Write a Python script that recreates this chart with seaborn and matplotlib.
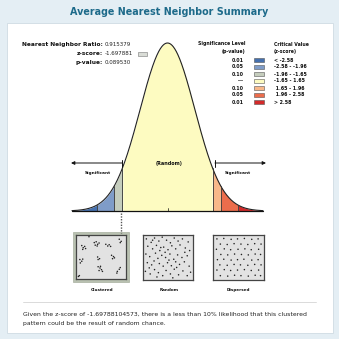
import numpy as np
import pandas as pd
import matplotlib
matplotlib.use("Agg")
import matplotlib.pyplot as plt
import seaborn as sns
from matplotlib.patches import Rectangle

sns.set_style("white")
plt.rcParams["font.family"] = ["DejaVu Sans"]

# ---------------- data ----------------
title = "Average Nearest Neighbor Summary"
nn_ratio = "0.915379"
z_score = -1.697881
z_score_text = "-1.697881"
p_value = "0.089530"
breaks = [-3.5, -2.58, -1.96, -1.65, 1.65, 1.96, 2.58, 3.5]
zone_colors = ["#4570ae", "#7f9cc8", "#c5cdbd", "#fdfbc1", "#f8b88a", "#ec6d4c", "#d32a2a"]
p_levels = ["0.01", "0.05", "0.10", "---", "0.10", "0.05", "0.01"]
z_ranges = ["< -2.58", "-2.58 - -1.96", "-1.96 - -1.65", "-1.65 - 1.65",
            " 1.65 - 1.96", " 1.96 - 2.58", "> 2.58"]
pattern_names = ["Clustered", "Random", "Dispersed"]
summary = ["Given the z-score of -1.69788104573, there is a less than 10% likelihood that this clustered",
           "pattern could be the result of random chance."]

clustered_u = [0.10, 0.13, 0.16, 0.18, 0.12, 0.36, 0.40, 0.43, 0.38, 0.46, 0.42,
               0.60, 0.64, 0.67, 0.70, 0.88, 0.92, 0.90, 0.06, 0.10, 0.07, 0.12,
               0.43, 0.47, 0.44, 0.72, 0.76, 0.74, 0.78, 0.44, 0.48, 0.51, 0.46,
               0.53, 0.49, 0.84, 0.88, 0.90, 0.83, 0.03, 0.05, 0.25]
clustered_v = [0.77, 0.72, 0.75, 0.70, 0.68, 0.84, 0.86, 0.80, 0.78, 0.83, 0.76,
               0.80, 0.76, 0.79, 0.75, 0.92, 0.87, 0.84, 0.44, 0.40, 0.36, 0.45,
               0.50, 0.46, 0.44, 0.54, 0.51, 0.46, 0.48, 0.27, 0.24, 0.20, 0.18,
               0.16, 0.28, 0.16, 0.21, 0.25, 0.12, 0.04, 0.06, 0.98]
random_u = [0.05, 0.15, 0.22, 0.31, 0.38, 0.47, 0.55, 0.63, 0.71, 0.80, 0.92,
            0.08, 0.18, 0.26, 0.33, 0.41, 0.50, 0.58, 0.66, 0.75, 0.86, 0.95,
            0.04, 0.12, 0.24, 0.29, 0.37, 0.45, 0.54, 0.62, 0.70, 0.79, 0.90,
            0.07, 0.16, 0.21, 0.32, 0.40, 0.49, 0.57, 0.66, 0.74, 0.84, 0.94,
            0.03, 0.13, 0.22, 0.30, 0.39, 0.46, 0.55, 0.63, 0.72, 0.81, 0.90,
            0.97, 0.27, 0.60, 0.44, 0.85, 0.18, 0.35, 0.52, 0.11, 0.68]
random_v = [0.93, 0.85, 0.95, 0.88, 0.97, 0.90, 0.84, 0.95, 0.88, 0.93, 0.86,
            0.76, 0.70, 0.78, 0.66, 0.74, 0.68, 0.77, 0.70, 0.79, 0.72, 0.66,
            0.58, 0.52, 0.60, 0.48, 0.55, 0.50, 0.58, 0.46, 0.56, 0.50, 0.54,
            0.38, 0.33, 0.42, 0.36, 0.30, 0.38, 0.31, 0.40, 0.34, 0.40, 0.30,
            0.18, 0.12, 0.22, 0.15, 0.08, 0.20, 0.12, 0.23, 0.10, 0.19, 0.08,
            0.16, 0.05, 0.03, 0.62, 0.62, 0.90, 0.73, 0.44, 0.26, 0.27]
dispersed_u = [0.06, 0.20, 0.35, 0.48, 0.62, 0.77, 0.90,
               0.13, 0.27, 0.41, 0.55, 0.69, 0.83, 0.96,
               0.05, 0.21, 0.34, 0.49, 0.63, 0.76, 0.91,
               0.14, 0.28, 0.42, 0.56, 0.70, 0.84, 0.95,
               0.07, 0.20, 0.35, 0.48, 0.61, 0.77, 0.90,
               0.12, 0.27, 0.41, 0.54, 0.69, 0.83, 0.96,
               0.06, 0.21, 0.34, 0.48, 0.62, 0.76, 0.91,
               0.13, 0.28, 0.42, 0.55, 0.70, 0.84, 0.95]
dispersed_v = [0.93, 0.94, 0.92, 0.93, 0.94, 0.92, 0.93,
               0.81, 0.80, 0.82, 0.81, 0.80, 0.82, 0.81,
               0.69, 0.70, 0.68, 0.69, 0.70, 0.68, 0.69,
               0.57, 0.56, 0.58, 0.57, 0.56, 0.58, 0.57,
               0.45, 0.46, 0.44, 0.45, 0.46, 0.44, 0.45,
               0.33, 0.32, 0.34, 0.33, 0.32, 0.34, 0.33,
               0.21, 0.22, 0.20, 0.21, 0.22, 0.20, 0.21,
               0.08, 0.07, 0.09, 0.08, 0.07, 0.09, 0.08]

# ---------------- figure ----------------
W = H = 339
fig = plt.figure(figsize=(3.39, 3.39), dpi=100)
fig.patch.set_facecolor("#e4eef4")


def pax(x0, y0, x1, y1, z=1):
    a = fig.add_axes([x0 / W, 1 - y1 / H, (x1 - x0) / W, (y1 - y0) / H])
    a.set_zorder(z)
    return a


def pixel_axes(z):
    a = fig.add_axes([0, 0, 1, 1])
    a.set_xlim(0, W)
    a.set_ylim(H, 0)
    a.axis("off")
    a.set_zorder(z)
    a.patch.set_alpha(0)
    return a


bg = pixel_axes(0)
ov = pixel_axes(3)

# white panel
bg.add_patch(Rectangle((7, 23), 326, 310, facecolor="white", edgecolor="#cfdbe3", lw=0.6))
bg.text(169.5, 12, title, ha="center", va="center", fontsize=6.9, fontweight="bold", color="#1d6a8a")

# stats
for y, lab, val in [(44.5, "Nearest Neighbor Ratio:", nn_ratio),
                    (53.5, "z-score:", z_score_text),
                    (62.5, "p-value:", p_value)]:
    ov.text(103, y, lab, ha="right", va="center", fontsize=4.2, fontweight="bold", color="#111")
    ov.text(104.5, y, val, ha="left", va="center", fontsize=4.0, color="#222")
ov.add_patch(Rectangle((138, 52), 9, 3.5, facecolor="#d9dcd6", edgecolor="#777", lw=0.4))

# legend
ov.text(245, 44, "Significance Level", ha="right", va="center", fontsize=3.3, fontweight="bold", color="#111")
ov.text(245, 51.5, "(p-value)", ha="right", va="center", fontsize=3.3, fontweight="bold", color="#111")
ov.text(274, 44, "Critical Value", ha="left", va="center", fontsize=3.3, fontweight="bold", color="#111")
ov.text(274, 51.5, "(z-score)", ha="left", va="center", fontsize=3.3, fontweight="bold", color="#111")
for i, (pl, zr, col) in enumerate(zip(p_levels, z_ranges, zone_colors)):
    y = 60 + i * 7
    ov.text(244, y, pl, ha="right", va="center", fontsize=3.4, fontweight="bold", color="#111")
    ov.add_patch(Rectangle((254, y - 2), 10, 4, facecolor=col, edgecolor="#555", lw=0.4))
    ov.text(274, y, zr, ha="left", va="center", fontsize=3.4, fontweight="bold", color="#111")

# ---------------- bell curve ----------------
ax = pax(72, 43, 263, 211, z=2)
ax.patch.set_alpha(0)
zz = np.linspace(-3.5, 3.5, 501)
pdf = np.exp(-zz ** 2 / 2) / np.sqrt(2 * np.pi)
curve = pd.DataFrame({"z": zz, "pdf": pdf})
for lo, hi, col in zip(breaks[:-1], breaks[1:], zone_colors):
    m = (zz >= lo) & (zz <= hi)
    ax.fill_between(zz[m], 0, pdf[m], color=col, lw=0)
sns.lineplot(data=curve, x="z", y="pdf", ax=ax, color="#222", lw=0.8, clip_on=False)
for b in breaks[1:-1]:
    pb = np.exp(-b ** 2 / 2) / np.sqrt(2 * np.pi)
    ax.plot([b, b], [0, pb], color="#333", lw=0.6)
ax.plot([-3.5, 3.5], [0, 0], color="#111", lw=0.9, clip_on=False)
ax.plot([0, 0], [0, 0.006], color="#111", lw=0.5)
ax.plot([z_score, z_score], [-0.004, -0.052], color="#555", lw=1.0, ls=(0, (1, 1)),
        clip_on=False, zorder=10)
ax.set_xlim(-3.5, 3.5)
ax.set_ylim(0, 1 / np.sqrt(2 * np.pi))
ax.axis("off")

# arrows and labels
ov.annotate("", xy=(71, 163), xytext=(122, 163),
            arrowprops=dict(arrowstyle="-|>", lw=0.7, color="#111", mutation_scale=5, shrinkA=0, shrinkB=0))
ov.plot([122, 122], [159.5, 166.5], color="#111", lw=0.7)
ov.annotate("", xy=(266, 163), xytext=(215, 163),
            arrowprops=dict(arrowstyle="-|>", lw=0.7, color="#111", mutation_scale=5, shrinkA=0, shrinkB=0))
ov.plot([215, 215], [159.5, 166.5], color="#111", lw=0.7)
ov.text(98, 173, "Significant", ha="center", va="center", fontsize=3.1, fontweight="bold", color="#111")
ov.text(238, 173, "Significant", ha="center", va="center", fontsize=3.1, fontweight="bold", color="#111")
ov.text(169, 163, "(Random)", ha="center", va="center", fontsize=3.5, fontweight="bold", color="#111")

# ---------------- pattern boxes ----------------
bg.add_patch(Rectangle((73, 232), 56, 50, facecolor="#b9c1b1", edgecolor="#a8b0a0", lw=0.5))
box_specs = [(76, 235, 126, 279, clustered_u, clustered_v),
             (143, 235, 193, 280, random_u, random_v),
             (213, 235, 264, 280, dispersed_u, dispersed_v)]
for (x0, y0, x1, y1, us, vs) in box_specs:
    bx = pax(x0, y0, x1, y1, z=4)
    bx.set_facecolor("#e2e2e2")
    sns.scatterplot(x=us, y=vs, ax=bx, s=1.2, color="#222", edgecolor="none", linewidth=0)
    bx.set_xlim(-0.02, 1.02)
    bx.set_ylim(-0.02, 1.02)
    bx.set_xticks([])
    bx.set_yticks([])
    bx.set_xlabel("")
    bx.set_ylabel("")
    for s in bx.spines.values():
        s.set_color("#444")
        s.set_linewidth(0.9)

for cx, name in zip([102, 169, 238], pattern_names):
    ov.text(cx, 290, name, ha="center", va="center", fontsize=3.0, fontweight="bold", color="#111")

# separator and summary
ov.plot([23, 316], [302, 302], color="#d4d4d4", lw=0.6)
ov.text(23, 314, summary[0], ha="left", va="center", fontsize=4.4, color="#222")
ov.text(23, 324, summary[1], ha="left", va="center", fontsize=4.4, color="#222")

fig.savefig("out.png", dpi=100, facecolor=fig.get_facecolor())
